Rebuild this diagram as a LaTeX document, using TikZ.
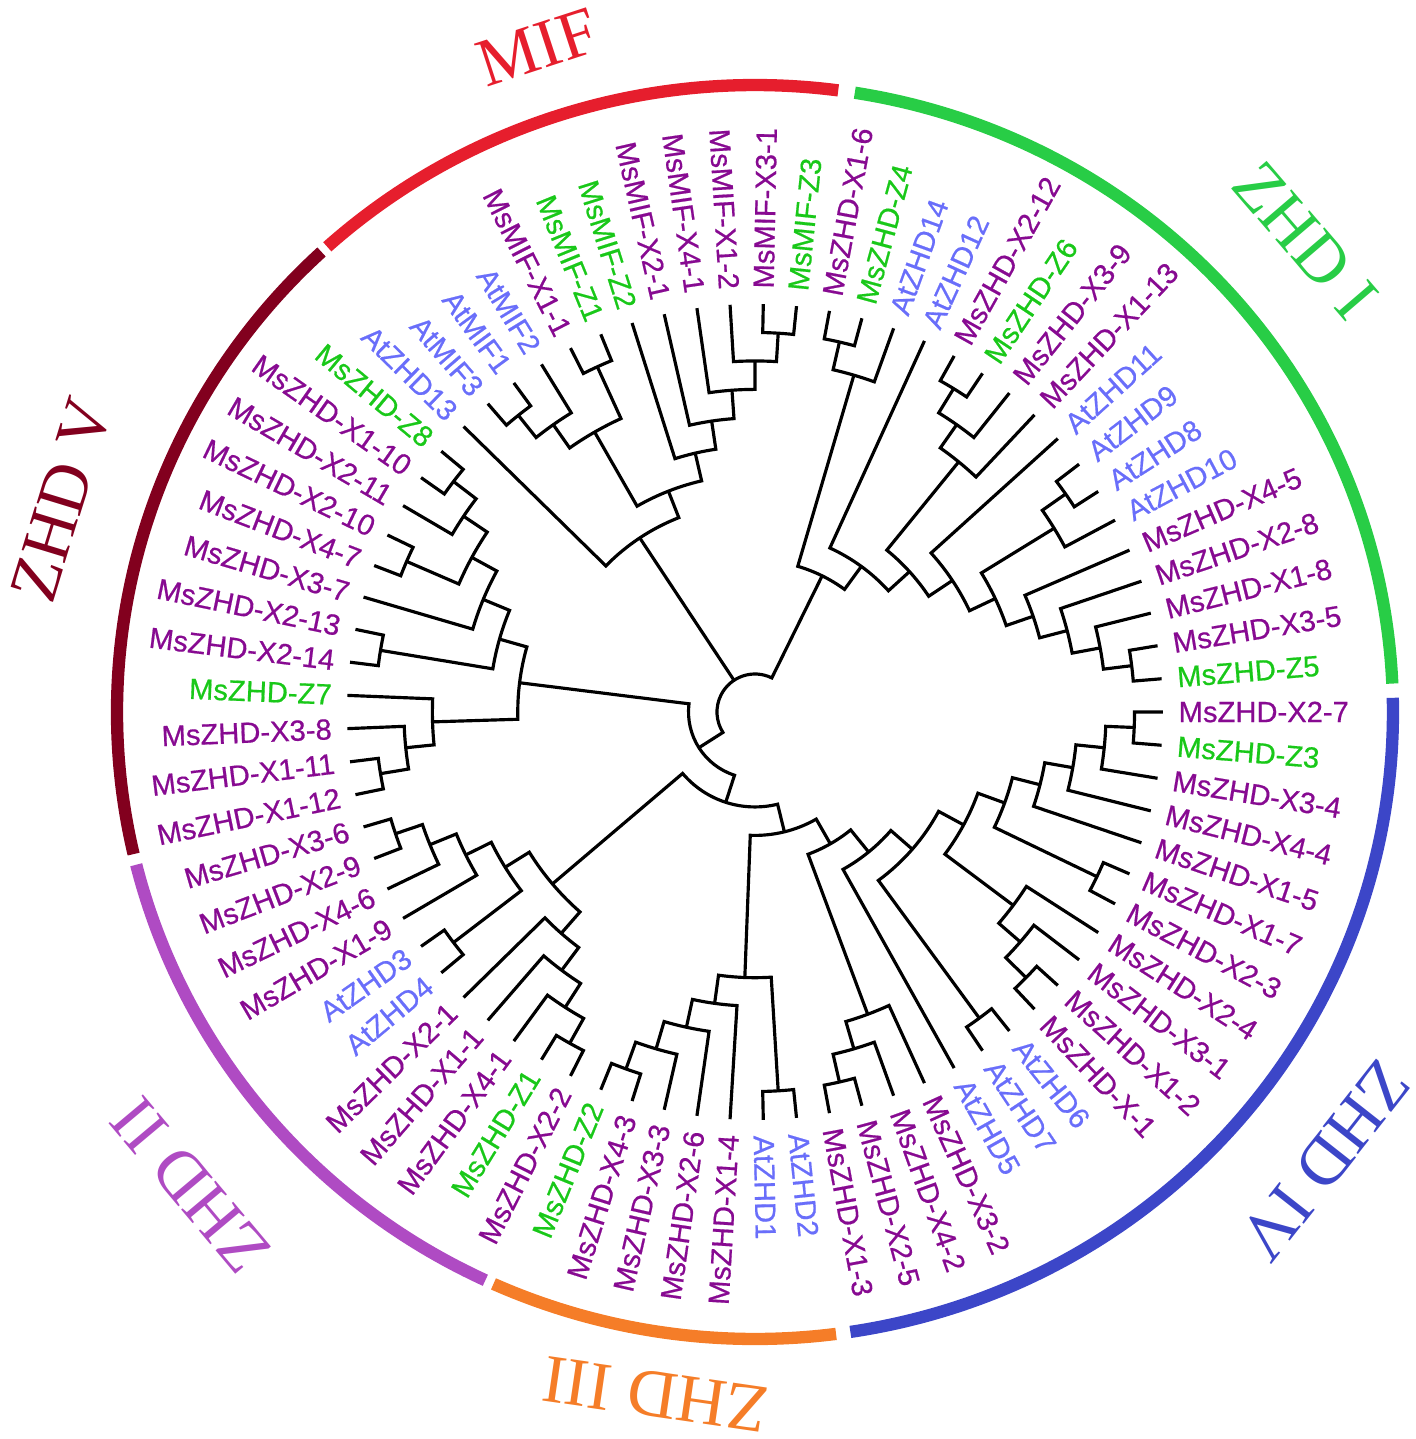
\documentclass[tikz,border=0pt]{standalone}
\usepackage{fontspec}
\setmainfont{Liberation Serif}
\setsansfont{Liberation Sans}
\newfontfamily\tiplabelfont{Liberation Sans}[FakeBold=0.6]
\definecolor{MsPurple}{RGB}{135,10,145}
\definecolor{MsGreen}{RGB}{25,200,25}
\definecolor{AtBlue}{RGB}{105,110,250}
\definecolor{RingMIF}{RGB}{230,30,45}
\definecolor{RingI}{RGB}{40,205,70}
\definecolor{RingII}{RGB}{175,75,195}
\definecolor{RingIII}{RGB}{245,125,40}
\definecolor{RingIV}{RGB}{60,70,200}
\definecolor{RingV}{RGB}{130,0,30}
\tikzset{
	branch/.style={line width=0.9pt, draw=black},
	ring/.style={line width=3.5pt},
	lbms/.style={text=MsPurple, font=\tiplabelfont\fontsize{8.3}{10}\selectfont, inner sep=0pt},
	lbz/.style={lbms, text=MsGreen},
	lbat/.style={lbms, text=AtBlue},
	grp/.style={font=\fontsize{19.5}{22}\selectfont, inner sep=0pt}
}
\makeatletter
\newcommand\tipR{4.08}
\newcommand\stepR{0.2846}
% leaf: index, text, style
\newcommand\tipleaf[3]{%
	\pgfmathsetmacro\lf@a{360/77*#1}%
	\global\expandafter\let\csname ang@l#1\endcsname\lf@a
	\global\expandafter\def\csname hgt@l#1\endcsname{0}%
	\coordinate (l#1) at (\lf@a:\tipR);
	\pgfmathtruncatemacro\lf@s{(\lf@a>90 && \lf@a<270) ? 1 : 0}%
	\ifnum\lf@s=1
	\node[#3, rotate=\lf@a-180, anchor=east] (t#1) at (\lf@a:4.23) {#2};
	\else
	\node[#3, rotate=\lf@a, anchor=west] (t#1) at (\lf@a:4.23) {#2};
	\fi
}
% clade: name, lower child, upper child
\newcommand\clade[3]{%
	\edef\cl@aa{\csname ang@#2\endcsname}%
	\edef\cl@ab{\csname ang@#3\endcsname}%
	\pgfmathsetmacro\cl@a{(\cl@aa+\cl@ab)/2}%
	\pgfmathtruncatemacro\cl@h{max(\csname hgt@#2\endcsname,\csname hgt@#3\endcsname)+1}%
	\pgfmathsetmacro\cl@r{\tipR-\stepR*\cl@h}%
	\global\expandafter\let\csname ang@#1\endcsname\cl@a
	\global\expandafter\let\csname hgt@#1\endcsname\cl@h
	\global\expandafter\let\csname rad@#1\endcsname\cl@r
	\coordinate (#1) at (\cl@a:\cl@r);
	\draw[branch] (#2) -- (\cl@aa:\cl@r) arc[start angle=\cl@aa, end angle=\cl@ab, radius=\cl@r] -- (#3);
}
\newcommand\tiechild[2]{%
	\edef\cl@aa{\csname ang@#2\endcsname}%
	\edef\cl@r{\csname rad@#1\endcsname}%
	\draw[branch] (\cl@aa:\cl@r) -- (#2);
}
\makeatother

\begin{document}
\begin{tikzpicture}
	\useasboundingbox (-7.55,-7.27) rectangle (6.61,7.12);
	% leaves
	\tipleaf{1}{MsZHD-Z5}{lbz}
	\tipleaf{2}{MsZHD-X3-5}{lbms}
	\tipleaf{3}{MsZHD-X1-8}{lbms}
	\tipleaf{4}{MsZHD-X2-8}{lbms}
	\tipleaf{5}{MsZHD-X4-5}{lbms}
	\tipleaf{6}{AtZHD10}{lbat}
	\tipleaf{7}{AtZHD8}{lbat}
	\tipleaf{8}{AtZHD9}{lbat}
	\tipleaf{9}{AtZHD11}{lbat}
	\tipleaf{10}{MsZHD-X1-13}{lbms}
	\tipleaf{11}{MsZHD-X3-9}{lbms}
	\tipleaf{12}{MsZHD-Z6}{lbz}
	\tipleaf{13}{MsZHD-X2-12}{lbms}
	\tipleaf{14}{AtZHD12}{lbat}
	\tipleaf{15}{AtZHD14}{lbat}
	\tipleaf{16}{MsZHD-Z4}{lbz}
	\tipleaf{17}{MsZHD-X1-6}{lbms}
	\tipleaf{18}{MsMIF-Z3}{lbz}
	\tipleaf{19}{MsMIF-X3-1}{lbms}
	\tipleaf{20}{MsMIF-X1-2}{lbms}
	\tipleaf{21}{MsMIF-X4-1}{lbms}
	\tipleaf{22}{MsMIF-X2-1}{lbms}
	\tipleaf{23}{MsMIF-Z2}{lbz}
	\tipleaf{24}{MsMIF-Z1}{lbz}
	\tipleaf{25}{MsMIF-X1-1}{lbms}
	\tipleaf{26}{AtMIF2}{lbat}
	\tipleaf{27}{AtMIF1}{lbat}
	\tipleaf{28}{AtMIF3}{lbat}
	\tipleaf{29}{AtZHD13}{lbat}
	\tipleaf{30}{MsZHD-Z8}{lbz}
	\tipleaf{31}{MsZHD-X1-10}{lbms}
	\tipleaf{32}{MsZHD-X2-11}{lbms}
	\tipleaf{33}{MsZHD-X2-10}{lbms}
	\tipleaf{34}{MsZHD-X4-7}{lbms}
	\tipleaf{35}{MsZHD-X3-7}{lbms}
	\tipleaf{36}{MsZHD-X2-13}{lbms}
	\tipleaf{37}{MsZHD-X2-14}{lbms}
	\tipleaf{38}{MsZHD-Z7}{lbz}
	\tipleaf{39}{MsZHD-X3-8}{lbms}
	\tipleaf{40}{MsZHD-X1-11}{lbms}
	\tipleaf{41}{MsZHD-X1-12}{lbms}
	\tipleaf{42}{MsZHD-X3-6}{lbms}
	\tipleaf{43}{MsZHD-X2-9}{lbms}
	\tipleaf{44}{MsZHD-X4-6}{lbms}
	\tipleaf{45}{MsZHD-X1-9}{lbms}
	\tipleaf{46}{AtZHD3}{lbat}
	\tipleaf{47}{AtZHD4}{lbat}
	\tipleaf{48}{MsZHD-X2-1}{lbms}
	\tipleaf{49}{MsZHD-X1-1}{lbms}
	\tipleaf{50}{MsZHD-X4-1}{lbms}
	\tipleaf{51}{MsZHD-Z1}{lbz}
	\tipleaf{52}{MsZHD-X2-2}{lbms}
	\tipleaf{53}{MsZHD-Z2}{lbz}
	\tipleaf{54}{MsZHD-X4-3}{lbms}
	\tipleaf{55}{MsZHD-X3-3}{lbms}
	\tipleaf{56}{MsZHD-X2-6}{lbms}
	\tipleaf{57}{MsZHD-X1-4}{lbms}
	\tipleaf{58}{AtZHD1}{lbat}
	\tipleaf{59}{AtZHD2}{lbat}
	\tipleaf{60}{MsZHD-X1-3}{lbms}
	\tipleaf{61}{MsZHD-X2-5}{lbms}
	\tipleaf{62}{MsZHD-X4-2}{lbms}
	\tipleaf{63}{MsZHD-X3-2}{lbms}
	\tipleaf{64}{AtZHD5}{lbat}
	\tipleaf{65}{AtZHD7}{lbat}
	\tipleaf{66}{AtZHD6}{lbat}
	\tipleaf{67}{MsZHD-X-1}{lbms}
	\tipleaf{68}{MsZHD-X1-2}{lbms}
	\tipleaf{69}{MsZHD-X3-1}{lbms}
	\tipleaf{70}{MsZHD-X2-4}{lbms}
	\tipleaf{71}{MsZHD-X2-3}{lbms}
	\tipleaf{72}{MsZHD-X1-7}{lbms}
	\tipleaf{73}{MsZHD-X1-5}{lbms}
	\tipleaf{74}{MsZHD-X4-4}{lbms}
	\tipleaf{75}{MsZHD-X3-4}{lbms}
	\tipleaf{76}{MsZHD-Z3}{lbz}
	\tipleaf{77}{MsZHD-X2-7}{lbms}
	% ZHD I
	\clade{z12}{l1}{l2}
	\clade{z11}{z12}{l3}
	\clade{z10}{z11}{l4}
	\clade{z9}{z10}{l5}
	\clade{z8p}{l7}{l8}
	\clade{z8}{l6}{z8p}
	\clade{z7}{z9}{z8}
	\clade{z6}{z7}{l9}
	\clade{z5p}{l12}{l13}
	\clade{z5}{l11}{z5p}
	\clade{z4}{l10}{z5}
	\clade{z3}{z6}{z4}
	\clade{z2}{z3}{l14}
	\clade{z1p}{l16}{l17}
	\clade{z1}{l15}{z1p}
	\clade{z0}{z2}{z1}
	% MIF
	\clade{m9}{l18}{l19}
	\clade{m8}{m9}{l20}
	\clade{m7}{m8}{l21}
	\clade{m6}{m7}{l22}
	\clade{m5}{m6}{l23}
	\clade{m3}{l24}{l25}
	\clade{m4p}{l27}{l28}
	\clade{m4}{l26}{m4p}
	\clade{m2}{m3}{m4}
	\clade{m1}{m5}{m2}
	\clade{m0}{m1}{l29}
	% ZHD V
	\clade{v10}{l30}{l31}
	\clade{v9}{v10}{l32}
	\clade{v8}{l33}{l34}
	\clade{v7}{v9}{v8}
	\clade{v6}{v7}{l35}
	\clade{v5}{l36}{l37}
	\clade{v4}{v6}{v5}
	\clade{v3}{l40}{l41}
	\clade{v2}{l39}{v3}
	\clade{v1}{l38}{v2}
	\clade{v0}{v4}{v1}
	% ZHD II
	\clade{r1}{l42}{l43}
	\clade{r2}{r1}{l44}
	\clade{r3}{r2}{l45}
	\clade{r4p}{l46}{l47}
	\clade{r4}{r3}{r4p}
	\clade{s4}{l51}{l52}
	\clade{s3}{l50}{s4}
	\clade{s2}{l49}{s3}
	\clade{s1}{l48}{s2}
	\clade{s0}{r4}{s1}
	% ZHD III
	\clade{q4}{l53}{l54}
	\clade{q3}{q4}{l55}
	\clade{q2}{q3}{l56}
	\clade{q1}{q2}{l57}
	\clade{q0}{l58}{l59}
	\clade{qq}{q1}{q0}
	% ZHD IV
	\clade{w3}{l60}{l61}
	\clade{w2}{w3}{l62}
	\clade{w1}{w2}{l63}
	\clade{wf}{l65}{l66}
	\clade{wj}{l67}{l68}
	\clade{wi}{wj}{l69}
	\clade{wh}{wi}{l70}
	\clade{p1}{l76}{l77}
	\clade{p2}{l75}{p1}
	\clade{p3}{l74}{p2}
	\clade{p4}{l73}{p3}
	\clade{pl}{l71}{l72}
	\clade{p5}{pl}{p4}
	\clade{wg}{wh}{p5}
	\clade{we}{wf}{wg}
	\clade{wd}{l64}{we}
	\clade{n5}{w1}{wd}
	% backbone
	\clade{n4}{qq}{n5}
	\clade{n3}{s0}{n4}
	\clade{n2}{v0}{n3}
	\clade{rt}{z0}{n2}
	\tiechild{rt}{m0}
	% group rings
	\draw[ring, RingI] (2.6:6.38 and 6.27) arc[start angle=2.6, end angle=81, x radius=6.38, y radius=6.27];
	\draw[ring, RingMIF] (82.5:6.38 and 6.27) arc[start angle=82.5, end angle=132.1, x radius=6.38, y radius=6.27];
	\draw[ring, RingV] (132.8:6.38 and 6.27) arc[start angle=132.8, end angle=193.1, x radius=6.38, y radius=6.27];
	\draw[ring, RingII] (194.1:6.38 and 6.27) arc[start angle=194.1, end angle=245, x radius=6.38, y radius=6.27];
	\draw[ring, RingIII] (245.8:6.38 and 6.27) arc[start angle=245.8, end angle=277.3, x radius=6.38, y radius=6.27];
	\draw[ring, RingIV] (278.6:6.38 and 6.27) arc[start angle=278.6, end angle=361.3, x radius=6.38, y radius=6.27];
	\node[grp, text=RingMIF, rotate=18.1] (gMIF) at (108.1:6.99) {MIF};
	\node[grp, text=RingI, rotate=-49.4] (gI) at (40.6:7.25) {ZHD I};
	\node[grp, text=RingIV, rotate=-128.2] (gIV) at (-38.2:7.25) {ZHD IV};
	\node[grp, text=RingIII, rotate=171.7] (gIII) at (261.7:6.9) {ZHD III};
	\node[grp, text=RingII, rotate=130] (gII) at (220:7.37) {ZHD II};
	\node[grp, text=RingV, rotate=73] (gV) at (163:7.25) {ZHD V};
\end{tikzpicture}
\end{document}
